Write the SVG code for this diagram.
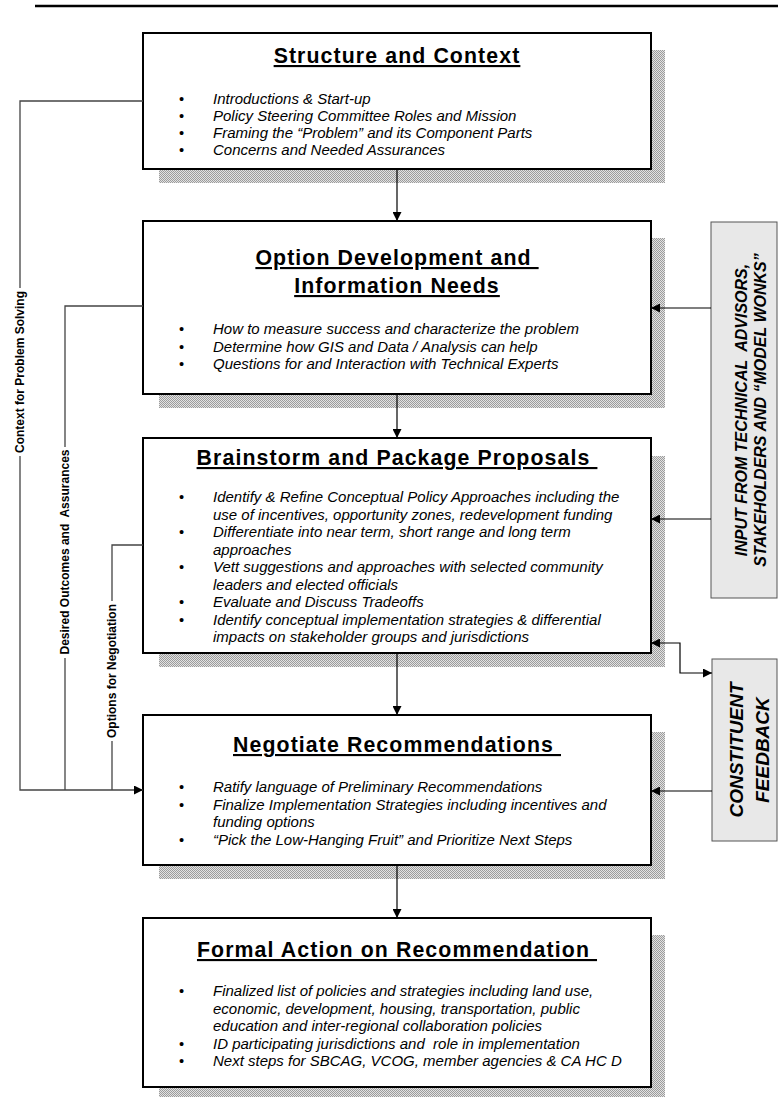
<svg xmlns="http://www.w3.org/2000/svg" width="778" height="1097" viewBox="0 0 778 1097">
<style>
.box{fill:#fff;stroke:#000;stroke-width:2}
.sh{fill:url(#hatch)}
.title{font-family:"Liberation Sans",Arial,sans-serif;font-weight:bold;font-size:21.3px;letter-spacing:1.1px;text-anchor:middle;text-decoration:underline;white-space:pre}
.bt{font-family:"Liberation Sans",Arial,sans-serif;font-style:italic;font-size:15px;fill:#000;white-space:pre}
.bu{font-family:"Liberation Sans",Arial,sans-serif;font-size:14.67px}
.lbl{font-family:"Liberation Sans",Arial,sans-serif;font-weight:bold;font-size:12px;text-anchor:middle;white-space:pre}
.side{fill:#e8e8e8;stroke:#555;stroke-width:1}
.st{font-family:"Liberation Sans",Arial,sans-serif;font-weight:bold;font-style:italic;text-anchor:middle;white-space:pre}
.ln{fill:none;stroke:#444;stroke-width:1.3}
.ar{fill:none;stroke:#000;stroke-width:1.2}
</style>
<defs>
<pattern id="hatch" width="2" height="2" patternUnits="userSpaceOnUse">
<rect width="2" height="2" fill="#e2e2e2"/>
<rect width="1" height="1" fill="#9c9c9c"/>
<rect x="1" y="1" width="1" height="1" fill="#9c9c9c"/>
</pattern>
<marker id="ah" markerWidth="9" markerHeight="9" refX="9" refY="4.5" orient="auto-start-reverse" markerUnits="userSpaceOnUse">
<path d="M0,0 L9,4.5 L0,9 z" fill="#000"/>
</marker>
</defs>

<line x1="35" y1="6" x2="778" y2="6" stroke="#000" stroke-width="2.5"/>

<g id="node-structure">
<rect class="sh" x="651" y="50" width="14" height="133"/>
<rect class="sh" x="159" y="169" width="506" height="14"/>
<rect class="box" x="143" y="33" width="508" height="136"/>
<text class="title" x="397" y="63">Structure and Context</text>
<g class="bu"><text x="179" y="104">•</text><text x="179" y="121">•</text><text x="179" y="138">•</text><text x="179" y="155">•</text></g>
<text class="bt" x="213" y="104">Introductions &amp; Start-up</text>
<text class="bt" x="213" y="121">Policy Steering Committee Roles and Mission</text>
<text class="bt" x="213" y="138">Framing the “Problem” and its Component Parts</text>
<text class="bt" x="213" y="155">Concerns and Needed Assurances</text>
</g>

<g id="node-option">
<rect class="sh" x="651" y="238" width="14" height="170"/>
<rect class="sh" x="159" y="394" width="506" height="14"/>
<rect class="box" x="143" y="221" width="508" height="173"/>
<text class="title" x="397" y="265">Option Development and </text>
<text class="title" x="397" y="293">Information Needs</text>
<g class="bu"><text x="179" y="334">•</text><text x="179" y="351.5">•</text><text x="179" y="369">•</text></g>
<text class="bt" x="213" y="334">How to measure success and characterize the problem</text>
<text class="bt" x="213" y="351.5">Determine how GIS and Data / Analysis can help</text>
<text class="bt" x="213" y="369">Questions for and Interaction with Technical Experts</text>
</g>

<g id="node-brainstorm">
<rect class="sh" x="651" y="456" width="14" height="211"/>
<rect class="sh" x="159" y="653" width="506" height="14"/>
<rect class="box" x="143" y="438" width="508" height="215"/>
<text class="title" x="397" y="465">Brainstorm and Package Proposals </text>
<g class="bu"><text x="179" y="502">•</text><text x="179" y="537">•</text><text x="179" y="572">•</text><text x="179" y="607">•</text><text x="179" y="624.5">•</text></g>
<text class="bt" x="213" y="502">Identify &amp; Refine Conceptual Policy Approaches including the</text>
<text class="bt" x="213" y="519.5">use of incentives, opportunity zones, redevelopment funding</text>
<text class="bt" x="213" y="537">Differentiate into near term, short range and long term</text>
<text class="bt" x="213" y="554.5">approaches</text>
<text class="bt" x="213" y="572">Vett suggestions and approaches with selected community</text>
<text class="bt" x="213" y="589.5">leaders and elected officials</text>
<text class="bt" x="213" y="607">Evaluate and Discuss Tradeoffs</text>
<text class="bt" x="213" y="624.5">Identify conceptual implementation strategies &amp; differential</text>
<text class="bt" x="213" y="642">impacts on stakeholder groups and jurisdictions</text>
</g>

<g id="node-negotiate">
<rect class="sh" x="651" y="732" width="14" height="147"/>
<rect class="sh" x="159" y="865" width="506" height="14"/>
<rect class="box" x="143" y="715" width="508" height="150"/>
<text class="title" x="397" y="752">Negotiate Recommendations </text>
<g class="bu"><text x="179" y="792">•</text><text x="179" y="809.5">•</text><text x="179" y="844.5">•</text></g>
<text class="bt" x="213" y="792">Ratify language of Preliminary Recommendations</text>
<text class="bt" x="213" y="809.5">Finalize Implementation Strategies including incentives and</text>
<text class="bt" x="213" y="827">funding options</text>
<text class="bt" x="213" y="844.5">“Pick the Low-Hanging Fruit” and Prioritize Next Steps</text>
</g>

<g id="node-formal">
<rect class="sh" x="651" y="935" width="14" height="166"/>
<rect class="sh" x="159" y="1087" width="506" height="14"/>
<rect class="box" x="143" y="918" width="508" height="169"/>
<text class="title" x="397" y="957">Formal Action on Recommendation </text>
<g class="bu"><text x="179" y="996">•</text><text x="179" y="1048.5">•</text><text x="179" y="1066">•</text></g>
<text class="bt" x="213" y="996">Finalized list of policies and strategies including land use,</text>
<text class="bt" x="213" y="1013.5">economic, development, housing, transportation, public</text>
<text class="bt" x="213" y="1031">education and inter-regional collaboration policies</text>
<text class="bt" x="213" y="1048.5">ID participating jurisdictions and  role in implementation</text>
<text class="bt" x="213" y="1066">Next steps for SBCAG, VCOG, member agencies &amp; CA HC D</text>
</g>

<g id="node-input">
<rect class="side" x="711" y="222" width="66" height="376"/>
<text class="st" font-size="16" transform="translate(747,410) rotate(-90)">INPUT FROM TECHNICAL  ADVISORS,</text>
<text class="st" font-size="16" transform="translate(766,410) rotate(-90)">STAKEHOLDERS AND “MODEL WONKS”</text>
</g>

<g id="node-feedback">
<rect class="side" x="712" y="659" width="65" height="182"/>
<text class="st" font-size="19" transform="translate(743,750) rotate(-90)">CONSTITUENT</text>
<text class="st" font-size="19" transform="translate(769,750) rotate(-90)">FEEDBACK</text>
</g>

<g id="connectors">
<path class="ar" d="M397,169 V221" marker-end="url(#ah)"/>
<path class="ar" d="M397,394 V438" marker-end="url(#ah)"/>
<path class="ar" d="M397,653 V715" marker-end="url(#ah)"/>
<path class="ar" d="M397,865 V918" marker-end="url(#ah)"/>
<path class="ar" d="M711,308 H651" marker-end="url(#ah)"/>
<path class="ar" d="M711,519 H651" marker-end="url(#ah)"/>
<path class="ar" d="M651,643 H680 V673 H712" marker-start="url(#ah)" marker-end="url(#ah)"/>
<path class="ar" d="M712,791 H651" marker-end="url(#ah)"/>
<path class="ln" d="M143,101 H20 V288"/>
<path class="ln" d="M20,456 V790 H143" marker-end="url(#ah)"/>
<path class="ln" d="M143,306 H65 V447"/>
<path class="ln" d="M65,658 V790"/>
<path class="ln" d="M143,545 H112 V601"/>
<path class="ln" d="M112,741 V790"/>
<text class="lbl" transform="translate(24,372) rotate(-90)">Context for Problem Solving</text>
<text class="lbl" transform="translate(69,552) rotate(-90)">Desired Outcomes and  Assurances</text>
<text class="lbl" transform="translate(116,671) rotate(-90)">Options for Negotiation</text>
</g>
</svg>
